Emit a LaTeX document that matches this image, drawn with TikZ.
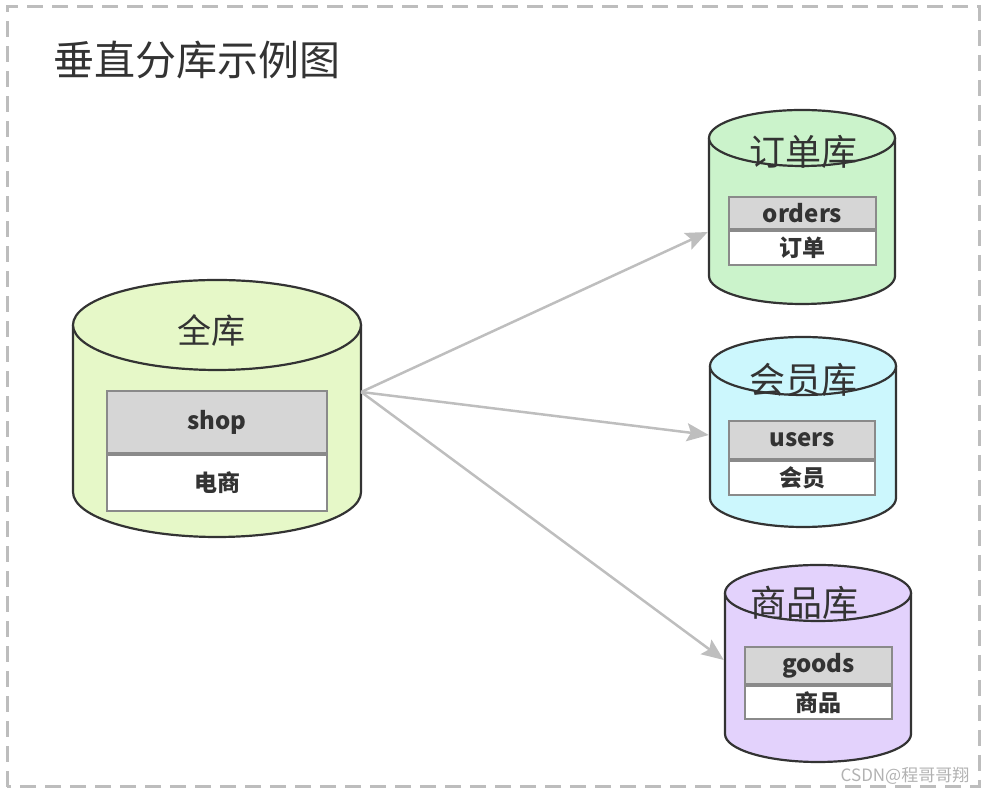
\documentclass[tikz,border=0pt]{standalone}
\usepackage{fontspec}
\setmainfont{Noto Sans CJK SC}
\usetikzlibrary{positioning,arrows.meta}
\definecolor{inkgrey}{HTML}{333333}
\definecolor{framegrey}{HTML}{BDBDBD}
\definecolor{arrowgrey}{HTML}{BEBEBE}
\definecolor{tablegrey}{HTML}{8A8A8A}
\definecolor{headgrey}{HTML}{D6D6D6}
\definecolor{allfill}{HTML}{E6F8C8}
\definecolor{orderfill}{HTML}{CBF3CB}
\definecolor{userfill}{HTML}{CCF7FD}
\definecolor{goodsfill}{HTML}{E3D2FC}

\begin{document}
\begin{tikzpicture}[x=1pt,y=1pt,
	dbline/.style={draw=inkgrey,line width=2.2pt},
	dbbody/.style={rectangle,inner sep=0pt},
	dblabel/.style={text=inkgrey,inner sep=0pt},
	tablehead/.style={rectangle,draw=tablegrey,line width=2pt,fill=headgrey,inner sep=0pt,text=inkgrey,font=\fontsize{24}{28}\selectfont\bfseries},
	tablerow/.style={rectangle,draw=tablegrey,line width=2pt,fill=white,inner sep=0pt,text=inkgrey,font=\fontsize{23}{27}\selectfont\bfseries},
	link/.style={draw=arrowgrey,line width=2.5pt,-{Stealth[length=22pt,width=18pt,inset=4pt]}}]
	\newcommand{\CYL}[6]{
		\fill[#6] (#1-#3,#2) rectangle (#1+#3,#2-#5);
		\fill[#6] (#1,#2-#5) ellipse[x radius=#3,y radius=#4];
		\draw[dbline] (#1-#3,#2) -- (#1-#3,#2-#5) arc[start angle=180,end angle=360,x radius=#3,y radius=#4] -- (#1+#3,#2);
		\filldraw[dbline,fill=#6] (#1,#2) ellipse[x radius=#3,y radius=#4];
	}
	\useasboundingbox (0,0) rectangle (987,794);
	\draw[framegrey,line width=3pt,dash pattern=on 16pt off 9pt] (7,7) rectangle (979,787);
	\node[text=inkgrey,font=\fontsize{41}{48}\selectfont] (title) at (197,734) {垂直分库示例图};

	\CYL{217}{469}{144}{45}{167}{allfill}
	\CYL{802}{656}{93}{28}{138}{orderfill}
	\CYL{803}{428}{93}{29}{132}{userfill}
	\CYL{818}{201}{93}{28}{141}{goodsfill}

	\node[dbbody,minimum width=288,minimum height=167] (all) at (217,385.5) {};
	\node[dbbody,minimum width=186,minimum height=138] (orders) at (802,587) {};
	\node[dbbody,minimum width=186,minimum height=132] (users) at (803,362) {};
	\node[dbbody,minimum width=186,minimum height=141] (goods) at (818,130.5) {};

	\node[dblabel,font=\fontsize{34}{40}\selectfont] (allname) at (211,464) {全库};
	\node[dblabel,font=\fontsize{36}{42}\selectfont] (ordersname) at (803,642) {订单库};
	\node[dblabel,font=\fontsize{36}{42}\selectfont] (usersname) at (803,414) {会员库};
	\node[dblabel,font=\fontsize{36}{42}\selectfont] (goodsname) at (804,191) {商品库};

	\node[tablehead,minimum width=220,minimum height=62] (shophead) at (217,372) {shop};
	\node[tablerow,minimum width=220,minimum height=56,below=0pt of shophead] (shoprow) {电商};
	\node[tablehead,minimum width=147,minimum height=32] (ordershead) at (802.5,581) {orders};
	\node[tablerow,minimum width=147,minimum height=34,below=0pt of ordershead] (ordersrow) {订单};
	\node[tablehead,minimum width=146,minimum height=38] (usershead) at (802,354) {users};
	\node[tablerow,minimum width=146,minimum height=34,below=0pt of usershead] (usersrow) {会员};
	\node[tablehead,minimum width=147,minimum height=37] (goodshead) at (818.5,128.5) {goods};
	\node[tablerow,minimum width=147,minimum height=33,below=0pt of goodshead] (goodsrow) {商品};

	\draw[link] ([yshift=16.5pt]all.east) -- ([yshift=-25pt,xshift=-1pt]orders.west);
	\draw[link] ([yshift=16.5pt]all.east) -- ([yshift=-3pt,xshift=-1pt]users.west);
	\draw[link] ([yshift=16.5pt]all.east) -- ([yshift=3.5pt,xshift=-1pt]goods.west);

	\node[text=black!30,font=\fontsize{17}{20}\selectfont,inner sep=0pt] (mark) at (905,18) {CSDN@程哥哥翔};
\end{tikzpicture}
\end{document}
